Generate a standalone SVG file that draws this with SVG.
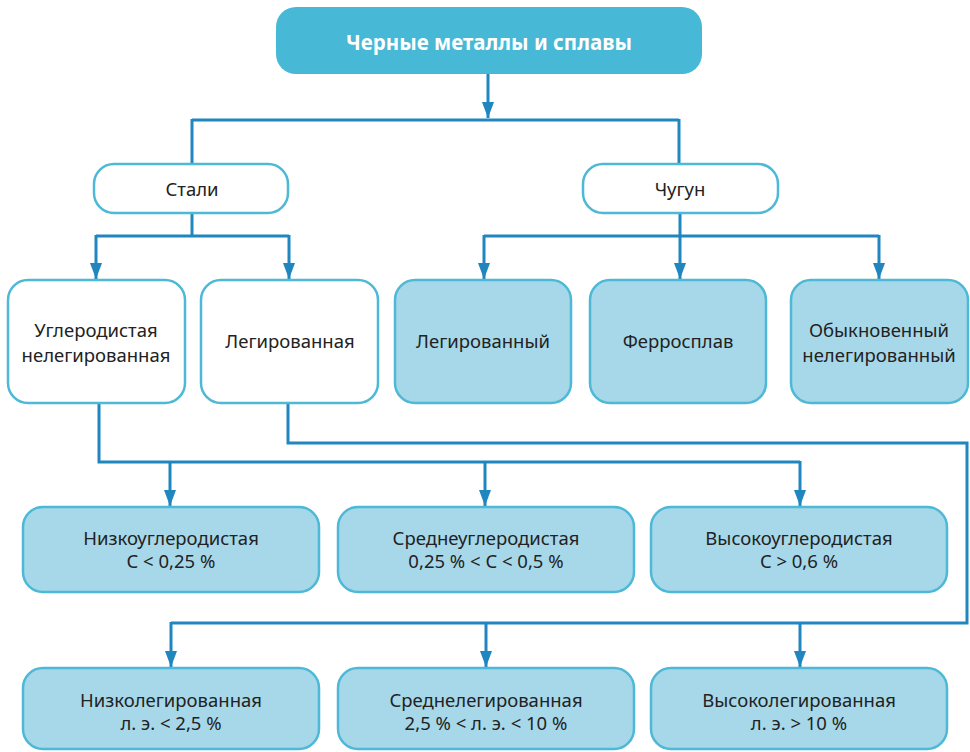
<svg xmlns="http://www.w3.org/2000/svg" width="970" height="752" viewBox="0 0 970 752">
  <defs>
    <marker id="arrow" viewBox="0 0 16 12" refX="16" refY="6" markerWidth="16" markerHeight="12" markerUnits="userSpaceOnUse" orient="auto">
      <path d="M0,0 L16,6 L0,12 Z" fill="#1f86bf"/>
    </marker>
  </defs>
  <style>
    .root rect { fill: #47b8d5; }
    .plain rect { fill: #ffffff; stroke: #4db9d6; stroke-width: 2.5; }
    .tint rect { fill: #a7d8e9; stroke: #4db9d6; stroke-width: 2.5; }
    text { font-family: "Noto Sans", "Open Sans", sans-serif; font-size: 18.5px; fill: #222222; text-anchor: middle; }
    .root text { fill: #ffffff; font-weight: bold; font-size: 20.5px; }
    .links path { fill: none; stroke: #1f86bf; stroke-width: 3; }
    .links path.arr { marker-end: url(#arrow); }
  </style>

  <!-- connectors -->
  <g class="links">
    <path class="arr" d="M488,74 V118"/>
    <path d="M192,120 H679"/>
    <path d="M192,119 V164"/>
    <path d="M679,119 V164"/>

    <path d="M192,213 V236"/>
    <path d="M96,236 H289"/>
    <path class="arr" d="M96,235 V279"/>
    <path class="arr" d="M289,235 V279"/>

    <path d="M680,213 V236"/>
    <path d="M484,236 H879"/>
    <path class="arr" d="M484,235 V279"/>
    <path class="arr" d="M680,235 V279"/>
    <path class="arr" d="M879,235 V279"/>

    <path d="M99,403 V462 H800"/>
    <path class="arr" d="M170,461 V506"/>
    <path class="arr" d="M485,461 V506"/>
    <path class="arr" d="M800,461 V506"/>

    <path d="M288,403 V443 H967 V623 H171"/>
    <path class="arr" d="M171,622 V667"/>
    <path class="arr" d="M486,622 V667"/>
    <path class="arr" d="M800,622 V667"/>
  </g>

  <!-- top level -->
  <g id="ferrous" class="root">
    <rect x="276" y="7" width="426" height="67" rx="20"/>
    <text x="489" y="50">Черные металлы и сплавы</text>
  </g>

  <!-- second level -->
  <g id="steels" class="plain">
    <rect x="94" y="164" width="194" height="49" rx="20"/>
    <text x="192" y="196">Стали</text>
  </g>
  <g id="cast-iron" class="plain">
    <rect x="583" y="164" width="195" height="49" rx="20"/>
    <text x="680" y="196">Чугун</text>
  </g>

  <!-- steel kinds -->
  <g id="carbon-steel" class="plain">
    <rect x="8" y="280" width="177" height="123" rx="20"/>
    <text x="96" y="337">Углеродистая</text>
    <text x="96" y="362">нелегированная</text>
  </g>
  <g id="alloy-steel" class="plain">
    <rect x="201" y="280" width="177" height="123" rx="20"/>
    <text x="290" y="348">Легированная</text>
  </g>

  <!-- cast iron kinds -->
  <g id="alloy-iron" class="tint">
    <rect x="395" y="280" width="176" height="123" rx="20"/>
    <text x="483" y="348">Легированный</text>
  </g>
  <g id="ferroalloy" class="tint">
    <rect x="590" y="280" width="176" height="123" rx="20"/>
    <text x="678" y="348">Ферросплав</text>
  </g>
  <g id="plain-iron" class="tint">
    <rect x="791" y="280" width="177" height="123" rx="20"/>
    <text x="879" y="337">Обыкновенный</text>
    <text x="879" y="362">нелегированный</text>
  </g>

  <!-- carbon content -->
  <g id="low-carbon" class="tint">
    <rect x="23" y="507" width="296" height="85" rx="20"/>
    <text x="171" y="545">Низкоуглеродистая</text>
    <text x="171" y="568">C &lt; 0,25 %</text>
  </g>
  <g id="medium-carbon" class="tint">
    <rect x="338" y="507" width="296" height="85" rx="20"/>
    <text x="486" y="545">Среднеуглеродистая</text>
    <text x="486" y="568">0,25 % &lt; C &lt; 0,5 %</text>
  </g>
  <g id="high-carbon" class="tint">
    <rect x="651" y="507" width="296" height="85" rx="20"/>
    <text x="799" y="545">Высокоуглеродистая</text>
    <text x="799" y="568">C &gt; 0,6 %</text>
  </g>

  <!-- alloying content -->
  <g id="low-alloy" class="tint">
    <rect x="23" y="668" width="296" height="81" rx="20"/>
    <text x="171" y="707">Низколегированная</text>
    <text x="171" y="730">л. э. &lt; 2,5 %</text>
  </g>
  <g id="medium-alloy" class="tint">
    <rect x="338" y="668" width="296" height="81" rx="20"/>
    <text x="486" y="707">Среднелегированная</text>
    <text x="486" y="730">2,5 % &lt; л. э. &lt; 10 %</text>
  </g>
  <g id="high-alloy" class="tint">
    <rect x="651" y="668" width="296" height="81" rx="20"/>
    <text x="799" y="707">Высоколегированная</text>
    <text x="799" y="730">л. э. &gt; 10 %</text>
  </g>
</svg>
